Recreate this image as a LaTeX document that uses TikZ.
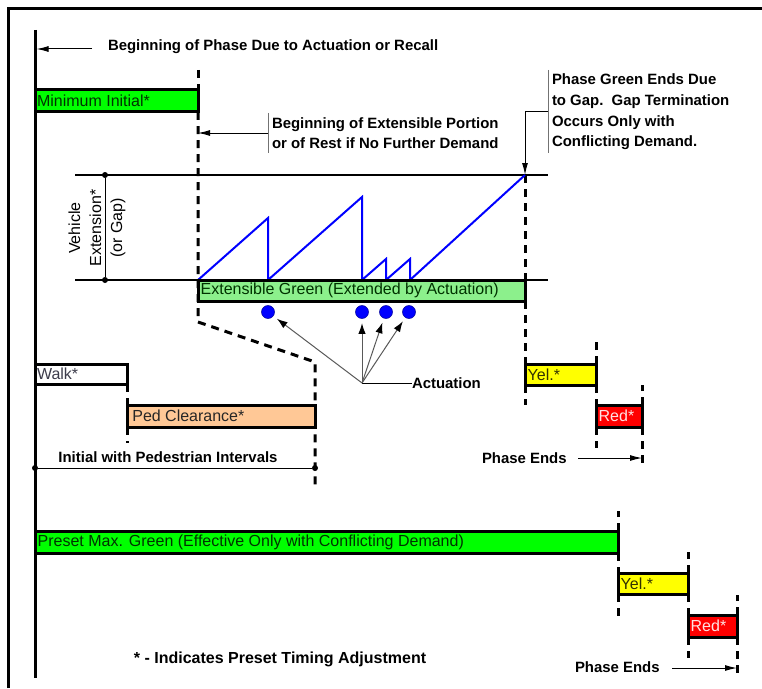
\documentclass[tikz,border=0pt]{standalone}
\usepackage{fontspec}
\setmainfont{Liberation Sans}
\usetikzlibrary{arrows.meta}
\definecolor{lgreen}{RGB}{0,255,0}
\definecolor{xgreen}{RGB}{140,240,140}
\definecolor{pedc}{RGB}{255,200,150}
\definecolor{yelc}{RGB}{255,255,0}
\definecolor{redc}{RGB}{255,0,0}
\definecolor{bluec}{RGB}{0,0,255}
\definecolor{gtext}{RGB}{0,50,0}
\definecolor{wtext}{RGB}{60,60,75}
\definecolor{rtextc}{RGB}{255,225,225}
\definecolor{ytext}{RGB}{50,50,0}
\begin{document}
\begin{tikzpicture}[x=0.75pt,y=-0.75pt,
  every node/.style={inner sep=0pt, outer sep=0pt},
  tbox/.style={draw=black, line width=2.25pt, anchor=north west, rectangle},
  dsh/.style={line width=2.25pt, dash pattern=on 6pt off 4.5pt},
  rtext/.style={font=\fontsize{12}{15.75}\selectfont, anchor=west},
  btext/.style={font=\bfseries\fontsize{11.2}{15.5}\selectfont},
  ptr/.style={line width=0.75pt, -{Latex[length=9pt,width=4.5pt]}},
  actarrow/.style={line width=0.75pt, draw=black!65, -{Latex[length=8pt,width=5.5pt,color=black]}, shorten >=3.5pt},
  adot/.style={circle, fill=bluec, draw=bluec!60!black, line width=0.4pt, minimum size=9.75pt},
  bdot/.style={circle, fill=black, minimum size=4.5pt},
  thinline/.style={line width=0.75pt},
]
\useasboundingbox (0,0) rectangle (762,688);
% frame and main axis
\draw[line width=2.25pt] (8.5,688) -- (8.5,8.5) -- (762,8.5);
\coordinate (axtop) at (35,30);
\coordinate (axbot) at (35,678);
\draw[line width=2.25pt] (axtop) -- (axbot);

% beginning of phase
\node[btext, anchor=west] (bop) at (108,47) {Beginning of Phase Due to Actuation or Recall};
\draw[ptr] (92,49) -- (36.5,49);

% minimum initial
\node[tbox, fill=lgreen, minimum width=122.25pt, minimum height=16.5pt] (mininit) at (35,90) {};
\node[rtext, text=gtext] at ([xshift=1.5pt]mininit.west) {Minimum Initial*};
\draw[dsh] (198,70) -- (mininit.north east);

% beginning of extensible portion
\node[btext, anchor=west, align=left] (bep) at (272,133) {Beginning of Extensible Portion\\or of Rest if No Further Demand};
\coordinate (bb) at (268,133);
\draw[thinline, draw=black!55] (268,113) -- (268,153);
\draw[ptr] (bb) -- (bb -| mininit.east);

% phase green ends
\node[btext, anchor=west, align=left] (pge) at (552,112) {Phase Green Ends Due\\to Gap.\ \ Gap Termination\\Occurs Only with\\Conflicting Demand.};
\coordinate (pb) at (548,112);
\coordinate (gend) at (525,175);
\draw[thinline, draw=black!55] (548,70) -- (548,153);
\draw[ptr] (pb) -| (gend);

% extension band
\coordinate (tl) at (75,175);
\coordinate (bl) at (75,280);
\draw[line width=1.5pt] (tl) -- (548,175);
\draw[line width=1.5pt] (bl) -- (548,280);
\node[bdot] (dimt) at (105,175) {};
\node[bdot] (dimb) at (105,280) {};
\draw[thinline] (dimt) -- (dimb);
\node[anchor=center, rotate=90, align=center, font=\fontsize{12}{15.75}\selectfont] (veh) at (97,228) {Vehicle\\Extension*\\(or Gap)};

% dashed guides (upper group)
\draw[dsh] (mininit.south east) -- (198,322) -- (315,362) -- (315,490);
\draw[dsh] (gend) -- (525,280);

% sawtooth
\draw[bluec, line width=1.5pt, line join=miter] (198,280) -- (268,218) -- (268,280) -- (362,197) -- (362,280) -- (386,259) -- (386,280) -- (410,259) -- (410,280) -- (gend);

% extensible green
\node[tbox, fill=xgreen, minimum width=245.25pt, minimum height=15.75pt] (extg) at (198,280) {};
\node[rtext, text=gtext] at ([xshift=2pt]extg.west) {Extensible Green (Extended by Actuation)};

% actuation dots
\node[adot] (d1) at (268,312) {};
\node[adot] (d2) at (362,312) {};
\node[adot] (d3) at (386,312) {};
\node[adot] (d4) at (409,312) {};
\coordinate (act) at (362,383);
\node[btext, anchor=west] (actl) at (412,383) {Actuation};
\draw[thinline] (act) -- (actl.west);
\draw[actarrow] (act) -- (d1);
\draw[actarrow] (act) -- (d2);
\draw[actarrow] (act) -- (d3);
\draw[actarrow] (act) -- (d4);

% walk and ped clearance
\node[tbox, fill=white, minimum width=69pt, minimum height=15pt] (walk) at (35,364) {};
\node[rtext, text=wtext] at ([xshift=1.5pt]walk.west) {Walk*};
\node[tbox, fill=pedc, minimum width=141pt, minimum height=16.5pt] (ped) at (127,405) {};
\node[rtext, text=black!85] at ([xshift=4pt]ped.west) {Ped Clearance*};
\draw[dsh] (walk.south east) -- (ped.north west);
\draw[dsh] (ped.south west) -- ++(0,16);

\node[btext] (iwp) at (168,457) {Initial with Pedestrian Intervals};
\node[bdot] (iwl) at (35,468) {};
\node[bdot] (iwr) at (315,468) {};
\draw[thinline] (iwl) -- (iwr);

% yellow / red (upper)
\node[tbox, fill=yelc, minimum width=53.25pt, minimum height=15.75pt] (yel1) at (525,364) {};
\node[rtext, text=ytext] at ([xshift=2pt]yel1.west) {Yel.*};
\node[tbox, fill=redc, minimum width=34.5pt, minimum height=16.5pt] (red1) at (596,405) {};
\node[rtext, text=rtextc] at ([xshift=2pt]red1.west) {Red*};
\draw[dsh] (extg.south east) -- (yel1.north west);
\draw[dsh] (yel1.south west) -- ++(0,20);
\draw[dsh] (yel1.north east) -- ++(0,-22);
\draw[dsh] (yel1.south east) -- (red1.north west);
\draw[dsh] (red1.south west) -- ++(0,21);
\draw[dsh] (red1.north east) -- ++(0,-20);
\draw[dsh] (red1.south east) -- ++(0,36);
\node[btext, anchor=west] (pe1) at (482,458) {Phase Ends};
\draw[ptr] (578,458) -- (642,458);

% preset max green
\node[tbox, fill=lgreen, minimum width=437.25pt, minimum height=16.5pt] (maxg) at (35,531) {};
\node[rtext, text=gtext] at ([xshift=2pt]maxg.west) {Preset Max. Green (Effective Only with Conflicting Demand)};
\node[tbox, fill=yelc, minimum width=52.5pt, minimum height=15.75pt] (yel2) at (618,573) {};
\node[rtext, text=ytext] at ([xshift=2pt]yel2.west) {Yel.*};
\node[tbox, fill=redc, minimum width=36.75pt, minimum height=16.5pt] (red2) at (688,615) {};
\node[rtext, text=rtextc] at ([xshift=2pt]red2.west) {Red*};
\draw[dsh] (maxg.north east) -- ++(0,-20);
\draw[dsh] (maxg.south east) -- (yel2.north west);
\draw[dsh] (yel2.south west) -- ++(0,22);
\draw[dsh] (yel2.north east) -- ++(0,-21);
\draw[dsh] (yel2.south east) -- (red2.north west);
\draw[dsh] (red2.south west) -- ++(0,21);
\draw[dsh] (red2.north east) -- ++(0,-20);
\draw[dsh] (red2.south east) -- ++(0,36);
\node[btext, anchor=west] (pe2) at (575,667) {Phase Ends};
\draw[ptr] (672,668) -- (737,668);

% footnote
\node[btext, font=\bfseries\fontsize{12}{15.5}\selectfont] (foot) at (280,659) {* - Indicates Preset Timing Adjustment};
\end{tikzpicture}
\end{document}
